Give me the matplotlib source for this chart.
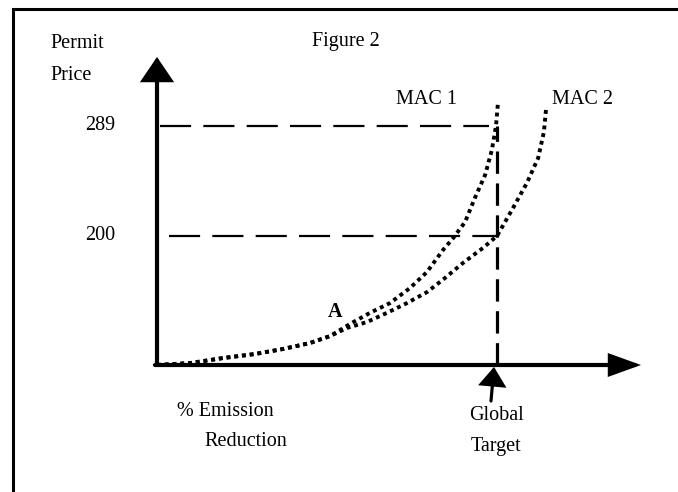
import matplotlib
matplotlib.use("Agg")
import matplotlib.pyplot as plt
from matplotlib.patches import Rectangle

# ---- data (schematic units: x = share of global target, y = price relative to 289 level)
reduction_mac1 = [0.0, 0.097, 0.194, 0.288, 0.371, 0.450, 0.509, 0.568, 0.626, 0.685,
                  0.744, 0.794, 0.841, 0.871, 0.906, 0.935, 0.965, 0.985, 0.997, 1.003]
price_mac1 = [0.0, 0.008, 0.029, 0.046, 0.067, 0.092, 0.121, 0.172, 0.218, 0.259,
              0.322, 0.389, 0.481, 0.531, 0.598, 0.699, 0.795, 0.900, 1.0, 1.100]
reduction_mac2 = [0.0, 0.097, 0.194, 0.288, 0.371, 0.450, 0.509, 0.559, 0.618, 0.676,
                  0.735, 0.794, 0.847, 0.900, 0.959, 1.0, 1.044, 1.088, 1.121, 1.138, 1.144]
price_mac2 = [0.0, 0.008, 0.029, 0.046, 0.067, 0.092, 0.121, 0.155, 0.180, 0.218,
              0.259, 0.305, 0.364, 0.427, 0.490, 0.540, 0.649, 0.762, 0.866, 0.975, 1.067]
price_levels = [1.0, 0.540]
price_labels = ["289", "200"]
global_target = 1.0

W, H = 678, 492
fig = plt.figure(figsize=(W / 100, H / 100), dpi=100)
ax = fig.add_axes([0, 0, 1, 1])
# origin at pixel (157, 365); 340 px per x-unit, 239 px per y-unit
X0, Y0, SX, SY = 157, 365, 340, 239
ax.set_xlim(-X0 / SX, (W - X0) / SX)
ax.set_ylim(-(H - Y0) / SY, Y0 / SY)
ax.axis("off")

def px(x, y):
    return (x - X0) / SX, (Y0 - y) / SY

# frame (left and top edges visible)
top = 1 - 8.5 / H
fig.add_artist(Rectangle((12.5 / W, -0.2), 1.3, top + 0.2, transform=fig.transFigure,
                         fill=False, lw=2.2, ec="black"))

serif = ["Liberation Serif", "DejaVu Serif"]
fs = 14.5

# axes with arrows
ax.annotate("", xy=px(157, 57), xytext=(0, 0),
            arrowprops=dict(arrowstyle="-|>,head_length=14,head_width=9.5", mutation_scale=1,
                            lw=3, color="black", shrinkA=0, shrinkB=0, joinstyle="miter"))
ax.annotate("", xy=px(641, 365), xytext=px(155, 365),
            arrowprops=dict(arrowstyle="-|>,head_length=18,head_width=6.5",
                            mutation_scale=1, lw=3, color="black", shrinkA=0, shrinkB=0,
                            joinstyle="miter"))

# horizontal price level dashed lines
ax.plot([px(160, 0)[0], 0.975], [price_levels[0]] * 2, color="black", lw=1.6,
        dashes=(14, 5.5))
ax.plot([px(169, 0)[0], global_target], [price_levels[1]] * 2, color="black", lw=1.6,
        dashes=(14, 5.5))
# vertical target dashed line
ax.plot([global_target, global_target], [0, price_levels[0]], color="black", lw=2.3,
        dashes=(7, 3))

# MAC curves
ax.plot(reduction_mac1, price_mac1, color="black", lw=2.8, dashes=(1, 1),
        dash_capstyle="butt")
ax.plot(reduction_mac2, price_mac2, color="black", lw=2.8, dashes=(1, 1),
        dash_capstyle="butt")

# global target arrow
ax.annotate("", xy=px(494, 367), xytext=px(491, 401),
            arrowprops=dict(arrowstyle="-|>,head_length=11,head_width=8",
                            mutation_scale=1, lw=2.3, color="black", shrinkA=0, shrinkB=0,
                            joinstyle="miter"))

# texts
def t(x, y, s, ha="center", **kw):
    ax.text(*px(x, y), s, ha=ha, va="center", family=serif, fontsize=fs, **kw)

t(50, 44, "Permit", ha="left")
t(50, 75, "Price", ha="left")
t(346, 42, "Figure 2")
for lvl, lab in zip(price_levels, price_labels):
    ax.text(px(100, 0)[0], lvl, lab, ha="center", va="center", family=serif, fontsize=fs)
t(426, 99, "MAC 1")
t(582, 99, "MAC 2")
t(335, 312, "A", fontweight="bold")
t(225, 412, "% Emission")
t(246, 442, "Reduction")
t(496, 416, "Global")
t(496, 446, "Target")

fig.savefig("out.png", dpi=100)
